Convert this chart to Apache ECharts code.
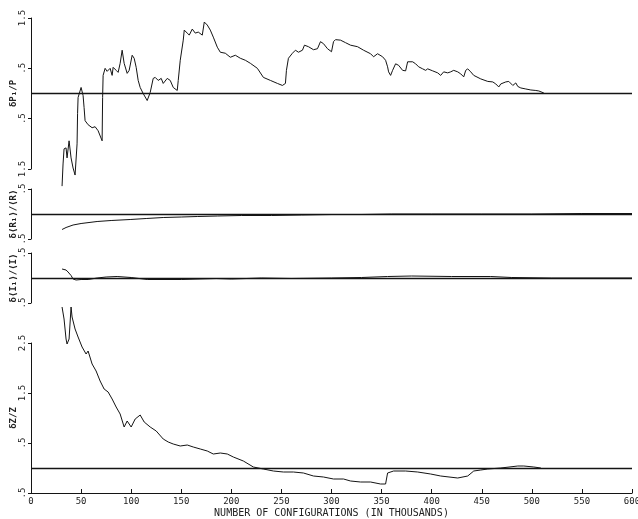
<!DOCTYPE html>
<html>
<head>
<meta charset="utf-8">
<script src="https://cdn.jsdelivr.net/npm/echarts@6/dist/echarts.min.js"></script>
<style>
html,body{margin:0;padding:0;background:#fff;}
#chart{width:638px;height:519px;}
</style>
</head>
<body>
<div id="chart"></div>
<script>
// x tick values (thousands of configurations)
const xTicks = [0, 50, 100, 150, 200, 250, 300, 350, 400, 450, 500, 550, 600];
const panelNames = ['δP\u2081/P', 'δ\u27E8R\u2081\u27E9/\u27E8R\u27E9', 'δ\u27E8I\u2081\u27E9/\u27E8I\u27E9', 'δZ/Z'];
const xAxisTitle = 'NUMBER OF CONFIGURATIONS (IN THOUSANDS)';

// Panel 1: δP1/P
const pX = [31,32,33,35,36,38,40,42,44,46,46.5,47,50,52,53,54,57,61,64,67,71,71.5,72,74,76,79,81,82,85,87,89,91,93,96,98,101,103,105,107,109,112,116,119,122,124,127,130,132,136,139,142,146,147,149,152,153,156,158,161,164,167,171,173,176,179,182,186,189,194,199,204,209,214,219,226,232,239,246,251,254,255,257,261,264,267,271,273,277,282,286,289,292,296,300,302,304,309,314,319,326,327,332,339,342,346,351,354,356,357,359,361,364,367,371,374,376,381,384,387,391,394,396,401,406,409,412,416,419,422,426,429,432,434,436,439,442,449,456,461,464,467,469,474,477,481,484,486,489,494,499,504,507,512];
const pY = [-1.84,-1.4,-1.1,-1.08,-1.28,-0.94,-1.28,-1.48,-1.62,-1.0,-0.4,-0.08,0.12,-0.04,-0.28,-0.54,-0.62,-0.68,-0.66,-0.74,-0.94,-0.08,0.36,0.5,0.44,0.5,0.36,0.52,0.46,0.42,0.6,0.86,0.6,0.4,0.46,0.76,0.7,0.52,0.26,0.12,0,-0.14,0.02,0.3,0.32,0.26,0.3,0.2,0.3,0.26,0.12,0.06,0.26,0.66,1.06,1.26,1.2,1.16,1.28,1.2,1.22,1.16,1.42,1.36,1.26,1.12,0.92,0.82,0.8,0.72,0.76,0.7,0.66,0.6,0.5,0.32,0.26,0.2,0.16,0.2,0.46,0.7,0.8,0.86,0.82,0.86,0.96,0.93,0.87,0.89,1.03,0.99,0.89,0.83,1.03,1.07,1.06,1.01,0.96,0.93,0.96,0.86,0.79,0.73,0.79,0.73,0.66,0.53,0.43,0.36,0.46,0.59,0.56,0.46,0.45,0.63,0.63,0.59,0.53,0.49,0.46,0.49,0.45,0.41,0.36,0.43,0.41,0.43,0.46,0.43,0.39,0.33,0.46,0.49,0.43,0.36,0.29,0.24,0.23,0.19,0.13,0.19,0.23,0.24,0.16,0.21,0.14,0.11,0.09,0.07,0.06,0.05,0.01];

// Panel 2: δ<R1>/<R>
const rX = [31,35,42,50,66,80,99,115,132,150,166,186,210,240,270,300,330,360,400,450,500,550,600];
const rY = [-0.31,-0.27,-0.22,-0.19,-0.15,-0.13,-0.11,-0.09,-0.07,-0.06,-0.05,-0.04,-0.03,-0.03,-0.02,-0.01,-0.01,0,0,0,0,0.01,0.01];

// Panel 3: δ<I1>/<I>
const iX = [31,35,37,40,42,45,50,57,66,75,86,100,116,150,185,200,230,260,300,330,356,380,420,459,480,520,600];
const iY = [0.18,0.16,0.12,0.05,-0.02,-0.04,-0.03,-0.03,0,0.02,0.03,0.01,-0.03,-0.03,-0.01,-0.02,0,-0.01,0,0.01,0.03,0.04,0.03,0.03,0.01,0,0];

// Panel 4: δZ/Z
const zX = [31,33,35,36,38,40,41,44,47,51,55,57,61,65,69,73,77,81,85,89,93,96,100,104,109,113,119,125,132,137,142,149,156,162,169,176,182,189,196,202,212,222,232,242,252,262,272,282,292,302,312,319,329,339,349,354,356,362,374,386,399,409,426,436,442,449,456,469,486,492,502,509];
const zY = [3.22,2.98,2.58,2.48,2.58,3.22,3.02,2.78,2.62,2.42,2.28,2.34,2.08,1.94,1.74,1.58,1.52,1.38,1.22,1.08,0.82,0.94,0.82,0.98,1.06,0.92,0.82,0.74,0.58,0.52,0.48,0.44,0.46,0.42,0.38,0.34,0.28,0.30,0.28,0.22,0.14,0.02,-0.02,-0.06,-0.08,-0.08,-0.10,-0.16,-0.18,-0.22,-0.22,-0.26,-0.28,-0.28,-0.32,-0.32,-0.10,-0.06,-0.06,-0.08,-0.12,-0.16,-0.20,-0.16,-0.06,-0.04,-0.02,0,0.04,0.04,0.02,0];

// y-axis ranges per panel (tick labels at odd halves)
const yMin = [-1.5, -0.5, -0.5, -0.5];
const yMax = [1.5, 0.5, 0.5, 2.5];

const FONT = 'DejaVu Sans Mono';
const INK = '#141414';
const gridTops = [18, 189, 253, 343];
const gridHeights = [151, 50, 50, 150];

function pairs(xs, ys){ return xs.map((x,i)=>[x, ys[i]]); }
const seriesData = [pairs(pX,pY), pairs(rX,rY), pairs(iX,iY), pairs(zX,zY)];

function fmt(v){
  let s = Math.abs(v).toFixed(1);
  if (s.startsWith('0')) s = s.slice(1);
  return s;
}

const grids = [], xAxes = [], yAxes = [], series = [];
for (let k = 0; k < 4; k++) {
  grids.push({left: 31, right: 6, top: gridTops[k], height: gridHeights[k], containLabel: false, outerBoundsMode: 'none'});
  const last = k === 3;
  xAxes.push({
    type: 'value', gridIndex: k, min: xTicks[0], max: xTicks[xTicks.length-1], interval: 50,
    show: last,
    axisLine: {show: last, onZero: false, lineStyle: {color: INK, width: 1.2}},
    axisTick: {show: last, inside: true, length: 4, lineStyle: {color: INK}},
    axisLabel: {show: last, fontFamily: FONT, fontSize: 9, color: '#222', margin: 4, hideOverlap: false},
    splitLine: {show: false},
    name: last ? xAxisTitle : '', nameLocation: 'middle', nameGap: 15, nameMoveOverlap: false,
    nameTextStyle: {fontFamily: FONT, fontSize: 10, color: '#222'}
  });
  yAxes.push({
    type: 'value', gridIndex: k, min: yMin[k], max: yMax[k], interval: 1,
    axisLine: {show: true, lineStyle: {color: INK, width: 1}},
    axisTick: {show: true, length: 3, lineStyle: {color: INK}},
    axisLabel: {fontFamily: FONT, fontSize: 9, color: '#222', rotate: 90, margin: 4, formatter: fmt},
    splitLine: {show: false},
    name: panelNames[k], nameLocation: 'middle', nameRotate: 90, nameGap: 13, nameMoveOverlap: false,
    nameTextStyle: {fontFamily: FONT, fontSize: 9, color: '#222', fontWeight: 'bold'}
  });
  series.push({
    type: 'line', xAxisIndex: k, yAxisIndex: k, data: seriesData[k],
    showSymbol: false, clip: false, silent: true,
    lineStyle: {color: INK, width: 1},
    markLine: {
      silent: true, symbol: ['none','none'], label: {show: false},
      lineStyle: {color: INK, width: 1.4, type: 'solid'},
      data: [{yAxis: 0}]
    }
  });
}

const chart = echarts.init(document.getElementById('chart'), null, {renderer: 'canvas'});
chart.setOption({
  animation: false,
  backgroundColor: '#fff',
  grid: grids, xAxis: xAxes, yAxis: yAxes, series: series
});
</script>
</body>
</html>
